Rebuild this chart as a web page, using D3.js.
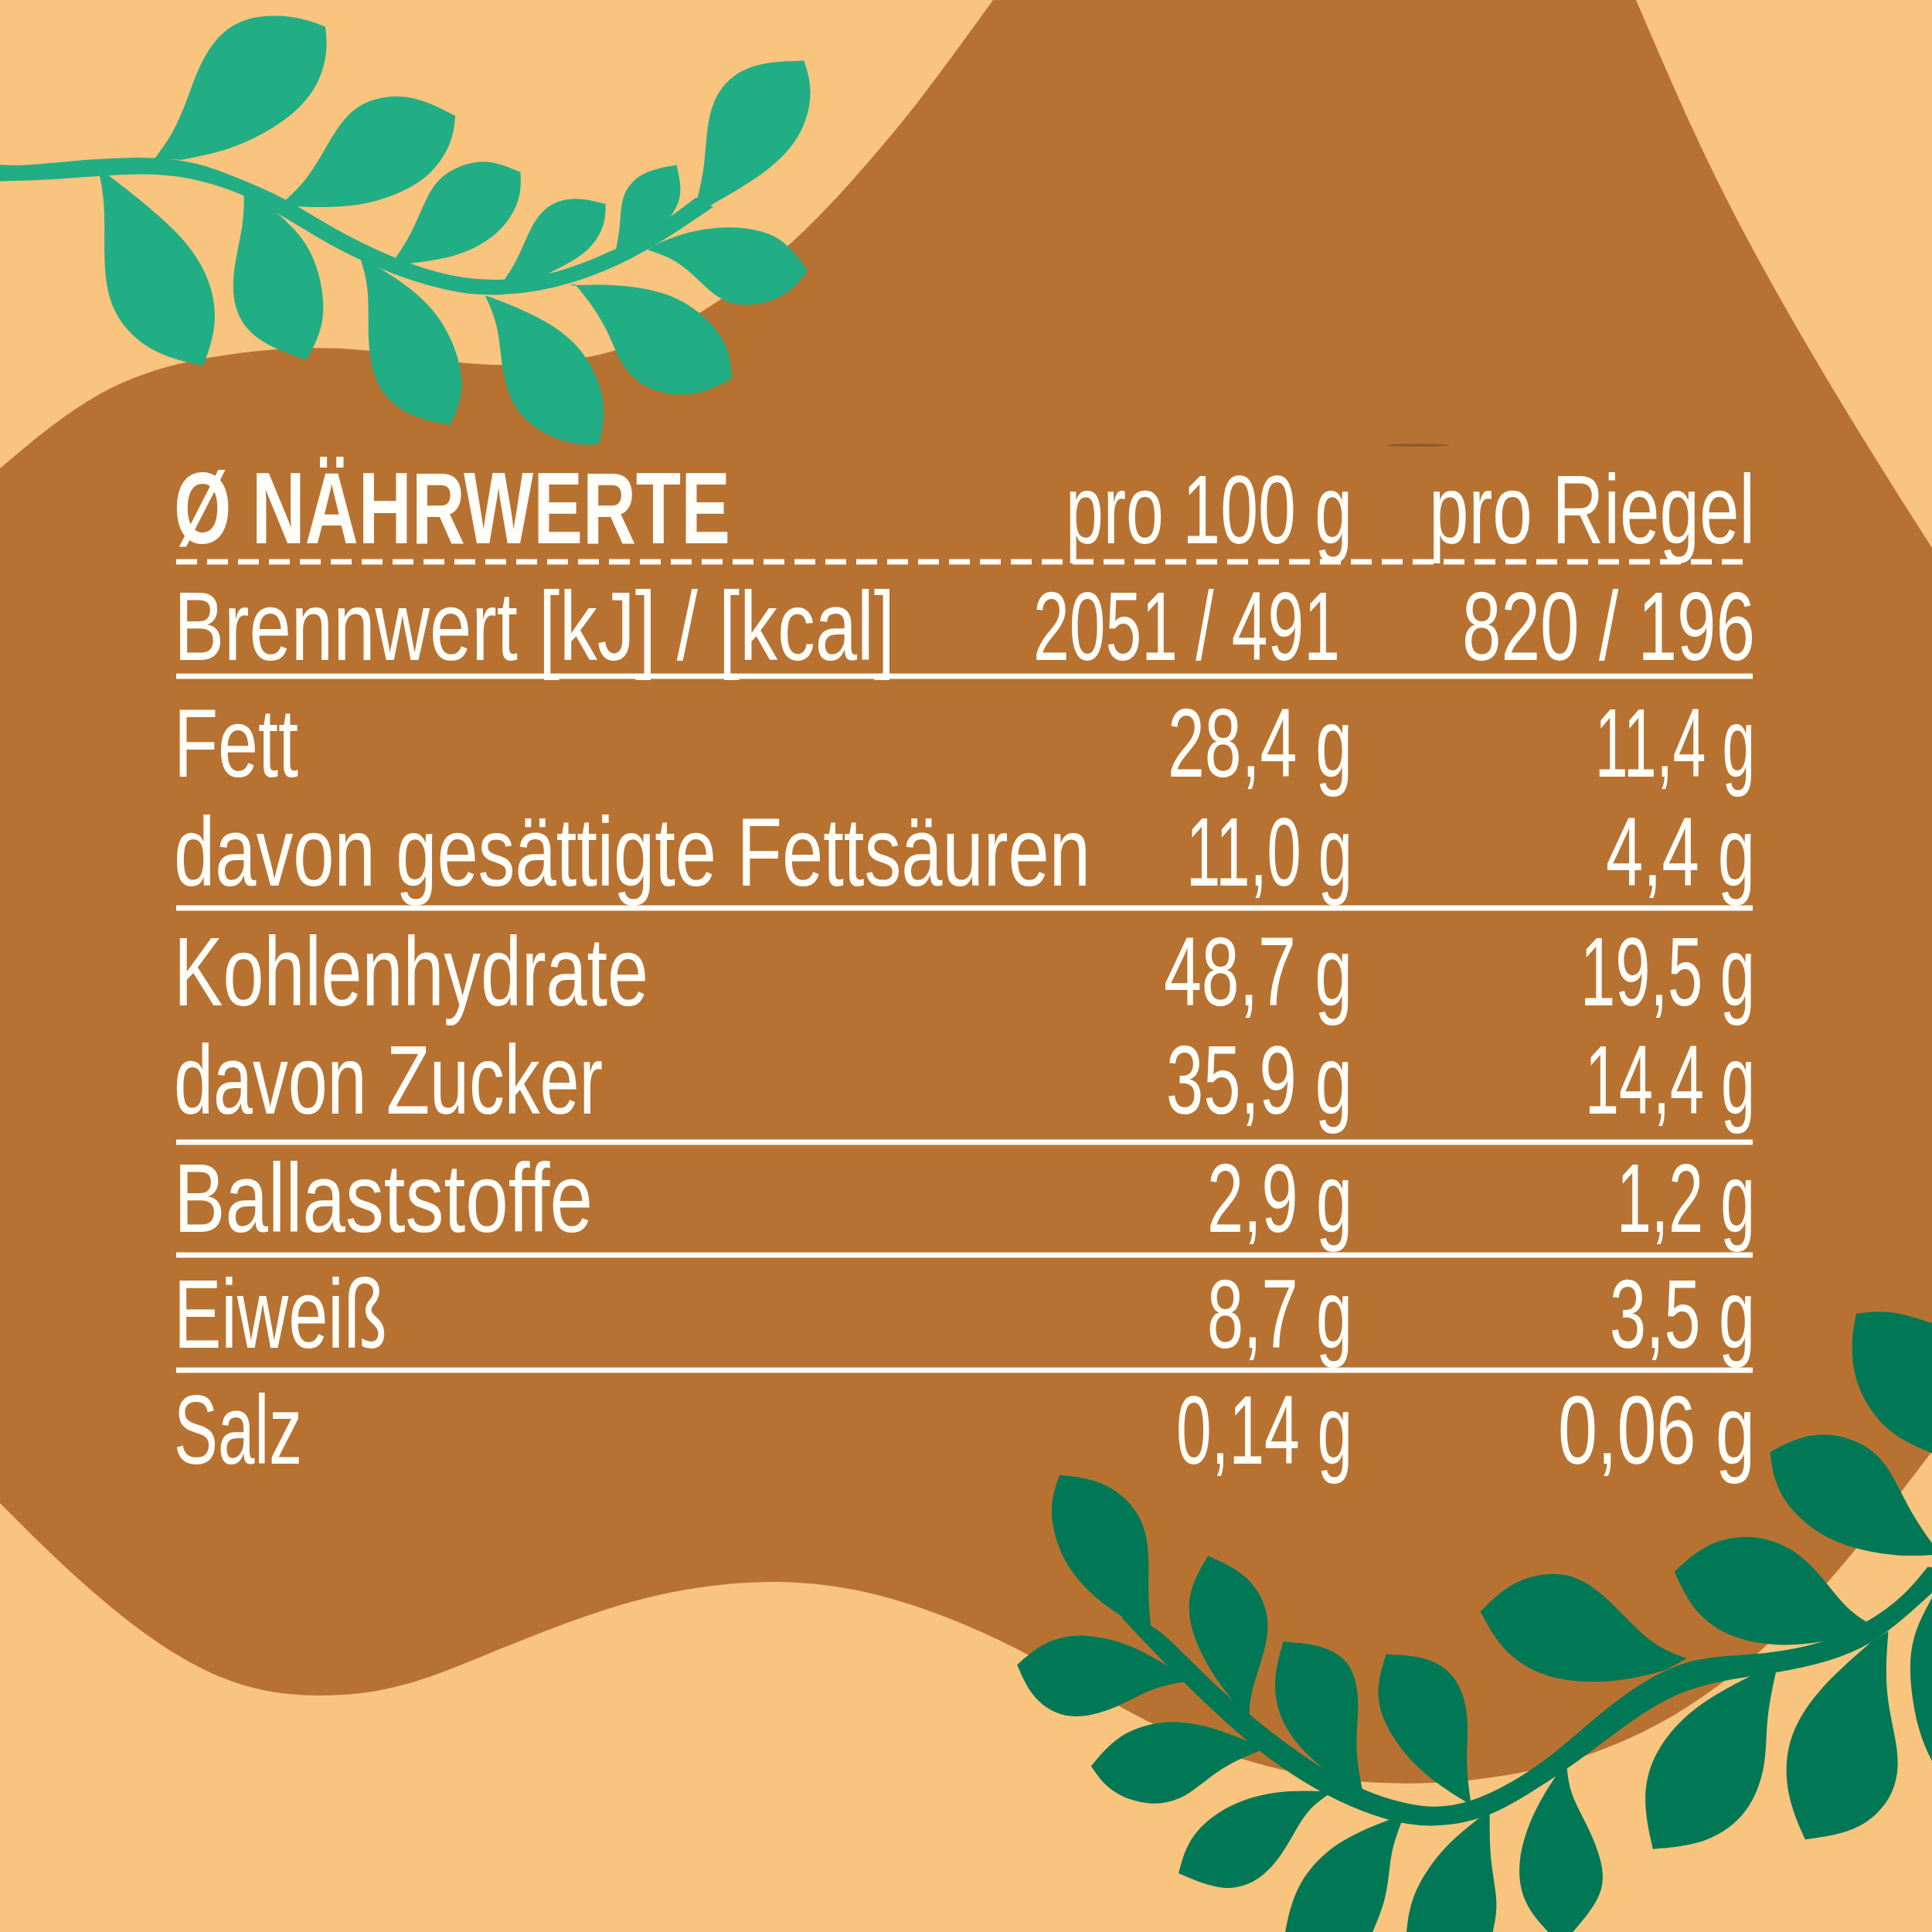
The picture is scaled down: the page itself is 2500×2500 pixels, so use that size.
<!DOCTYPE html>
<html>
<head>
<meta charset="utf-8">
<script src="https://cdn.jsdelivr.net/npm/d3@7"></script>
<style>
  html, body { margin: 0; padding: 0; background: #f9c47e; }
  svg { display: block; }
</style>
</head>
<body>
<script>
const title = 'Ø NÄHRWERTE';
const columns = ['pro 100 g', 'pro Riegel'];
const nutrients = ['Brennwert [kJ] / [kcal]', 'Fett', 'davon gesättigte Fettsäuren', 'Kohlenhydrate', 'davon Zucker', 'Ballaststoffe', 'Eiweiß', 'Salz'];
const per100g = ['2051 / 491', '28,4 g', '11,0 g', '48,7 g', '35,9 g', '2,9 g', '8,7 g', '0,14 g'];
const perBar = ['820 / 196', '11,4 g', '4,4 g', '19,5 g', '14,4 g', '1,2 g', '3,5 g', '0,06 g'];

const width = 2500;
const height = 2500;
const white = '#fffdf8';

const svg = d3.select(document.body).append('svg')
  .attr('width', width)
  .attr('height', height);

svg.append('rect').attr('width', width).attr('height', height).attr('fill', '#f9c47e');

const spline = d3.line().curve(d3.curveBasis);

// each side is smoothed on its own so the corners between sides stay sharp
function outline(sides) {
  return sides.map((s, i) => {
    const d = spline(s);
    return i ? 'L' + d.slice(1) : d;
  }).join('') + 'Z';
}

// brown blob behind the table
svg.append('path')
  .attr('fill', '#b77232')
  .attr('d', outline([
    [[0, 606], [120, 505], [245, 462], [414, 445], [530, 460], [645, 478], [793, 462], [912, 408], [1036, 308], [1120, 215], [1195, 125], [1285, 0]],
    [[2117, 0], [2190, 170], [2264, 319], [2380, 520], [2500, 709]],
    [[2500, 1878], [2400, 2010], [2278, 2145], [2130, 2250], [1950, 2305], [1768, 2312], [1620, 2285], [1481, 2230], [1360, 2155], [1250, 2100], [1120, 2055], [990, 2042], [850, 2060], [730, 2100], [620, 2145], [520, 2185], [430, 2197], [320, 2190], [210, 2135], [100, 2045], [0, 1945]]
  ]));

svg.append('ellipse')
  .attr('cx', 1835).attr('cy', 576).attr('rx', 40).attr('ry', 2)
  .attr('fill', '#8f5a2a');

const topSprig = [
  [[[0, 565], [40, 570], [170, 545], [290, 537], [370, 560], [450, 620], [525, 680], [600, 770], [725, 885], [830, 945], [925, 960], [1030, 935], [1135, 855], [1205, 790], [1285, 680]],
   [[1305, 700], [1190, 845], [1060, 955], [920, 1000], [810, 975], [665, 875], [580, 785], [495, 690], [440, 640], [350, 590], [270, 578], [190, 585], [100, 600], [0, 605]]],
  [[[285, 537], [320, 450], [345, 340], [365, 230], [400, 120], [450, 60], [510, 50], [560, 62], [600, 90]],
   [[600, 90], [605, 170], [590, 280], [550, 375], [490, 450], [420, 510], [335, 540]]],
  [[[525, 680], [565, 610], [595, 520], [625, 420], [665, 345], [730, 318], [785, 340], [840, 392]],
   [[840, 392], [835, 480], [800, 585], [745, 650], [670, 695], [600, 702], [545, 698]]],
  [[[725, 885], [760, 790], [785, 670], [815, 585], [880, 538], [925, 555], [960, 582]],
   [[960, 582], [962, 670], [930, 775], [875, 845], [810, 880], [745, 893]]],
  [[[925, 960], [955, 880], [980, 760], [1010, 690], [1060, 663], [1117, 690]],
   [[1117, 690], [1117, 760], [1090, 845], [1040, 900], [985, 948]]],
  [[[1135, 855], [1145, 760], [1145, 660], [1180, 580], [1248, 558]],
   [[1248, 558], [1258, 640], [1250, 700], [1228, 755], [1195, 830]]],
  [[[1285, 680], [1300, 570], [1303, 430], [1320, 305], [1380, 212], [1483, 205]],
   [[1483, 205], [1500, 300], [1485, 445], [1425, 575], [1305, 700]]],
  [[[1205, 830], [1270, 780], [1350, 762], [1425, 785], [1465, 850], [1490, 915]],
   [[1490, 915], [1455, 1000], [1385, 1040], [1330, 1020], [1290, 950], [1250, 880], [1195, 845]]],
  [[[1050, 965], [1150, 960], [1245, 995], [1305, 1075], [1345, 1170], [1350, 1280]],
   [[1350, 1280], [1300, 1328], [1250, 1340], [1190, 1315], [1145, 1240], [1125, 1130], [1090, 1025], [1060, 960]]],
  [[[895, 1000], [920, 1100], [925, 1250], [945, 1385], [1005, 1475], [1070, 1508], [1105, 1500]],
   [[1105, 1500], [1118, 1400], [1105, 1280], [1065, 1155], [990, 1065], [905, 1005]]],
  [[[665, 875], [682, 980], [677, 1150], [690, 1305], [745, 1405], [830, 1438]],
   [[830, 1438], [855, 1340], [850, 1220], [815, 1075], [760, 975], [695, 900]]],
  [[[450, 645], [450, 760], [430, 900], [428, 1045], [470, 1155], [565, 1218]],
   [[565, 1218], [600, 1100], [595, 950], [565, 805], [495, 695]]],
  [[[183, 585], [195, 700], [190, 900], [205, 1065], [275, 1195], [375, 1237]],
   [[375, 1237], [402, 1100], [390, 945], [335, 785], [195, 585]]]
];

const bottomSprig = [
  [[[270, 830], [303, 840], [380, 960], [465, 1070], [560, 1175], [650, 1245], [720, 1272], [760, 1280], [820, 1268], [890, 1220], [960, 1150], [1040, 1045], [1100, 980], [1180, 918], [1290, 915], [1390, 890], [1470, 835], [1530, 770], [1568, 700]],
   [[1568, 745], [1520, 810], [1465, 875], [1400, 915], [1315, 942], [1220, 960], [1150, 990], [1080, 1050], [975, 1170], [900, 1240], [840, 1290], [760, 1312], [690, 1298], [590, 1240], [480, 1135], [360, 970], [270, 830]]],
  [[[300, 840], [295, 760], [298, 680], [290, 575], [230, 490], [152, 477]],
   [[152, 477], [132, 560], [155, 685], [210, 775], [270, 830]]],
  [[[460, 1060], [460, 1000], [490, 880], [492, 800], [460, 715], [393, 670]],
   [[393, 670], [357, 760], [365, 860], [408, 975], [460, 1060]]],
  [[[645, 1240], [630, 1130], [640, 1020], [628, 925], [580, 882], [515, 875]],
   [[515, 875], [495, 980], [515, 1085], [572, 1175], [645, 1240]]],
  [[[820, 1265], [810, 1160], [818, 1050], [797, 955], [750, 910], [682, 905]],
   [[682, 905], [662, 1000], [685, 1095], [742, 1195], [820, 1265]]],
  [[[340, 945], [270, 880], [185, 852], [125, 875], [83, 930]],
   [[83, 930], [105, 1005], [145, 1050], [190, 1058], [250, 1030], [300, 985], [358, 970]]],
  [[[470, 1120], [395, 1075], [325, 1060], [250, 1090], [203, 1172]],
   [[203, 1172], [235, 1240], [310, 1272], [365, 1240], [412, 1175], [480, 1133]]],
  [[[580, 1232], [490, 1230], [410, 1275], [360, 1345], [345, 1428]],
   [[345, 1428], [420, 1475], [480, 1445], [520, 1370], [550, 1280], [588, 1240]]],
  [[[687, 1300], [600, 1350], [535, 1450], [518, 1568]],
   [[660, 1568], [685, 1480], [688, 1380], [707, 1305]]],
  [[[832, 1297], [770, 1370], [722, 1480], [715, 1568]],
   [[855, 1568], [865, 1500], [850, 1400], [850, 1285]]],
  [[[960, 1190], [920, 1280], [893, 1400], [903, 1500], [945, 1568]],
   [[985, 1568], [1030, 1490], [1038, 1420], [1012, 1320], [980, 1240], [975, 1170]]],
  [[[1170, 915], [1115, 885], [1060, 800], [1010, 730], [955, 705], [885, 730], [835, 803]],
   [[835, 803], [868, 895], [930, 958], [1010, 975], [1080, 965], [1135, 943]]],
  [[[1470, 835], [1430, 800], [1390, 720], [1340, 645], [1265, 615], [1195, 645], [1150, 708]],
   [[1150, 708], [1180, 805], [1240, 868], [1320, 887], [1390, 877], [1440, 858]]],
  [[[1568, 640], [1530, 560], [1495, 445], [1450, 395], [1395, 375], [1345, 390], [1305, 423]],
   [[1305, 423], [1315, 525], [1378, 618], [1450, 658], [1520, 672], [1568, 668]]],
  [[[1445, 92], [1500, 82], [1568, 115]],
   [[1568, 425], [1495, 380], [1445, 275], [1435, 170], [1445, 92]]],
  [[[1290, 945], [1175, 1030], [1110, 1150], [1098, 1260], [1115, 1370]],
   [[1115, 1370], [1205, 1358], [1272, 1285], [1300, 1170], [1298, 1060], [1315, 945]]],
  [[[1470, 875], [1380, 990], [1330, 1110], [1330, 1240], [1362, 1347]],
   [[1362, 1347], [1455, 1328], [1512, 1235], [1515, 1130], [1490, 1000], [1497, 850]]],
  [[[1568, 770], [1535, 860], [1530, 960], [1545, 1090], [1568, 1160]]]
];

// first path of a sprig is the stem, smoothing thins it so it gets a stroke on top
function drawSprig(paths, color, transform) {
  svg.append('g')
    .attr('fill', color)
    .attr('transform', transform)
    .selectAll('path').data(paths).join('path')
    .attr('d', outline)
    .attr('stroke', (d, i) => i === 0 ? color : 'none')
    .attr('stroke-width', 16);
}

drawSprig(topSprig, '#22ae84', 'scale(0.7015,0.3827)');
drawSprig(bottomSprig, '#007855', 'translate(1250,1650) scale(0.7972,0.5421)');

// table layout
const left = 228;
const right = 2268;
const col1 = 1750;
const col2 = 2271;
const y = d3.scaleOrdinal(nutrients, [854, 1005, 1146, 1301, 1441, 1594, 1744, 1894]);
const ruleYs = [875, 1175, 1478, 1624, 1773];

// rendered width of every string, the installed font runs wider or narrower per glyph
const nameWidths = [933, 161, 1186, 614, 555, 542, 276, 166];
const col1Widths = [397, 239, 215, 244, 241, 188, 188, 228];
const col2Widths = [379, 207, 193, 226, 220, 179, 188, 255];

const fontFamily = '"Liberation Sans Narrow", "Liberation Sans", sans-serif';
const table = svg.append('g').attr('fill', white).attr('font-family', fontFamily).attr('font-size', 126);

function fit(sel, x, yy, w) {
  const k = w / sel.node().getComputedTextLength();
  return sel.attr('transform', `translate(${x},${yy}) scale(${k},1)`);
}

fit(table.append('text').attr('font-size', 132).attr('font-weight', 700).text(title), left - 3, 703, 720);

table.selectAll('text.col').data(columns).join('text')
  .attr('class', 'col')
  .attr('text-anchor', 'end')
  .text(d => d)
  .each(function (d, i) { fit(d3.select(this), i ? col2 : col1, 703, i ? 422 : 371); });

table.selectAll('text.name').data(nutrients).join('text')
  .attr('class', 'name')
  .text(d => d)
  .each(function (d, i) { fit(d3.select(this), left - 3, y(d), nameWidths[i]); });

[[per100g, col1, col1Widths], [perBar, col2, col2Widths]].forEach(([values, x, widths], c) => {
  table.selectAll(`text.v${c}`).data(values).join('text')
    .attr('class', `v${c}`)
    .attr('text-anchor', 'end')
    .text(d => d)
    .each(function (d, i) {
      // the kJ / kcal figure of the first column stops short of the g column
      fit(d3.select(this), i === 0 && c === 0 ? x - 16 : x, y(nutrients[i]), widths[i]);
    });
});

svg.append('line')
  .attr('x1', left).attr('x2', right).attr('y1', 727).attr('y2', 727)
  .attr('stroke', white).attr('stroke-width', 7)
  .attr('stroke-dasharray', '27 13');

svg.selectAll('line.rule').data(ruleYs).join('line')
  .attr('class', 'rule')
  .attr('x1', left).attr('x2', right)
  .attr('y1', d => d).attr('y2', d => d)
  .attr('stroke', white).attr('stroke-width', 7);
</script>
</body>
</html>
